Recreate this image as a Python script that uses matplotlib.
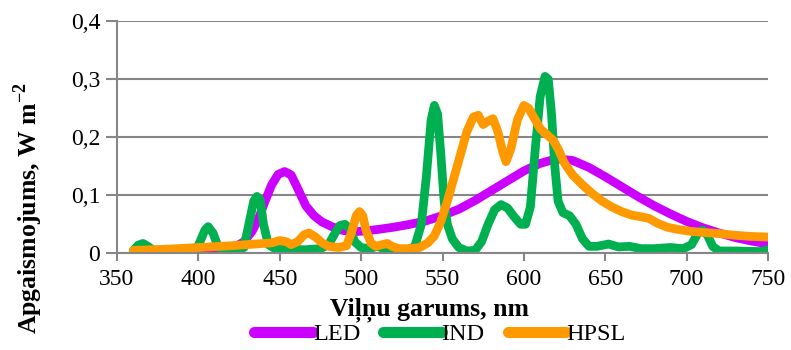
import matplotlib
matplotlib.use("Agg")
import matplotlib.pyplot as plt
from matplotlib.ticker import FixedLocator

plt.rcParams['font.family'] = ['Liberation Serif', 'DejaVu Serif']
plt.rcParams['mathtext.fontset'] = 'custom'
plt.rcParams['mathtext.rm'] = 'Liberation Serif'
plt.rcParams['mathtext.bf'] = 'Liberation Serif:bold'

# ---- data ----
led_wl = [360, 380, 400, 415, 422, 428, 433, 437, 441, 445, 449, 453, 457, 461, 466, 471,
          476, 482, 488, 494, 500, 510, 520, 530, 540, 550, 560, 570, 580, 590, 600, 610,
          620, 630, 640, 650, 660, 670, 680, 690, 700, 710, 720, 730, 740, 750]
led_val = [0.003, 0.003, 0.004, 0.006, 0.010, 0.020, 0.038, 0.060, 0.090, 0.118, 0.136, 0.141,
           0.135, 0.112, 0.082, 0.065, 0.054, 0.046, 0.040, 0.037, 0.038, 0.041, 0.045, 0.050,
           0.056, 0.065, 0.076, 0.091, 0.108, 0.125, 0.142, 0.155, 0.163, 0.160, 0.148, 0.132,
           0.115, 0.098, 0.082, 0.068, 0.055, 0.044, 0.035, 0.027, 0.021, 0.016]

ind_wl = [360, 363, 366, 369, 373, 380, 390, 398, 401, 404, 406, 409, 412, 416, 422, 428,
          431, 434, 436, 438, 440, 443, 447, 455, 465, 475, 480, 484, 487, 490, 493, 496,
          500, 505, 510, 514, 520, 528, 533, 537, 540, 543, 545, 547, 549, 551, 553, 556,
          560, 565, 570, 574, 578, 582, 586, 590, 594, 598, 601, 604, 607, 610, 613, 615,
          617, 619, 621, 624, 628, 632, 636, 640, 645, 652, 658, 665, 672, 680, 690, 698,
          703, 707, 710, 713, 716, 720, 730, 745, 750]
ind_val = [0.005, 0.014, 0.017, 0.012, 0.004, 0.002, 0.002, 0.003, 0.020, 0.040, 0.046, 0.035,
           0.012, 0.003, 0.004, 0.010, 0.050, 0.090, 0.098, 0.092, 0.050, 0.015, 0.008, 0.008,
           0.006, 0.008, 0.015, 0.035, 0.048, 0.050, 0.043, 0.020, 0.010, 0.008, 0.012, 0.008,
           0.004, 0.005, 0.012, 0.050, 0.130, 0.230, 0.255, 0.240, 0.170, 0.090, 0.050, 0.025,
           0.010, 0.004, 0.005, 0.020, 0.050, 0.075, 0.084, 0.078, 0.063, 0.050, 0.050, 0.080,
           0.180, 0.270, 0.305, 0.300, 0.240, 0.150, 0.090, 0.070, 0.065, 0.050, 0.025, 0.012,
           0.012, 0.016, 0.011, 0.012, 0.008, 0.008, 0.010, 0.008, 0.015, 0.035, 0.040, 0.030,
           0.012, 0.004, 0.004, 0.003, 0.006]

hpsl_wl = [360, 380, 400, 420, 435, 445, 450, 454, 457, 461, 465, 468, 472, 476, 480, 486,
           491, 494, 497, 499, 501, 503, 506, 509, 513, 516, 519, 523, 530, 536, 541, 545,
           549, 553, 557, 561, 565, 569, 572, 575, 578, 581, 584, 587, 589, 592, 596, 600,
           603, 606, 610, 614, 618, 621, 625, 630, 636, 642, 648, 654, 660, 666, 672, 677,
           682, 688, 695, 702, 710, 720, 730, 740, 750]
hpsl_val = [0.005, 0.007, 0.010, 0.013, 0.016, 0.018, 0.022, 0.020, 0.015, 0.020, 0.032, 0.035,
            0.028, 0.018, 0.012, 0.010, 0.013, 0.035, 0.065, 0.072, 0.065, 0.040, 0.018, 0.012,
            0.015, 0.017, 0.012, 0.008, 0.008, 0.010, 0.018, 0.030, 0.055, 0.090, 0.130, 0.170,
            0.210, 0.235, 0.238, 0.222, 0.228, 0.232, 0.210, 0.175, 0.158, 0.180, 0.230, 0.255,
            0.250, 0.235, 0.215, 0.205, 0.195, 0.180, 0.155, 0.135, 0.118, 0.103, 0.090, 0.080,
            0.072, 0.066, 0.063, 0.060, 0.052, 0.045, 0.041, 0.038, 0.036, 0.034, 0.031, 0.029,
            0.028]

series_names = ["LED", "IND", "HPSL"]
x_ticks = [350, 400, 450, 500, 550, 600, 650, 700, 750]
y_ticks = [0, 0.1, 0.2, 0.3, 0.4]
y_tick_labels = ["0", "0,1", "0,2", "0,3", "0,4"]

colors = ["#CC00FF", "#00B050", "#FF9900"]
grid_c = "#868686"

fig = plt.figure(figsize=(7.91, 3.5), dpi=100)
ax = fig.add_axes([117/791, 1-253.3/350, (768-117)/791, (253.3-21.3)/350])

lw = 6.3
for wl, val, c, name in [(led_wl, led_val, colors[0], series_names[0]),
                         (ind_wl, ind_val, colors[1], series_names[1]),
                         (hpsl_wl, hpsl_val, colors[2], series_names[2])]:
    ax.plot(wl, val, color=c, lw=lw, solid_joinstyle='round', solid_capstyle='round',
            label=name)

ax.set_xlim(350, 750)
ax.set_ylim(0, 0.4)
ax.xaxis.set_major_locator(FixedLocator(x_ticks))
ax.set_yticks(y_ticks)
ax.set_yticklabels(y_tick_labels)
ax.grid(axis='y', color=grid_c, lw=1.5)
ax.set_axisbelow(True)
for s in ['top', 'right']:
    ax.spines[s].set_visible(False)
for s in ['left', 'bottom']:
    ax.spines[s].set_color(grid_c)
    ax.spines[s].set_linewidth(1.5)
ax.tick_params(axis='both', direction='out', color=grid_c, width=1.5, length=6,
               labelsize=17, pad=5)
ax.tick_params(axis='y', length=8, pad=4)

fig.text(429/791, 1-310/350, "Viļņu garums, nm", ha='center', va='center',
         fontsize=18.5, fontweight='bold')
fig.text(28/791, 1-208/350, r"Apgaismojums, W m$^{\mathbf{-2}}$", ha='center', va='center',
         rotation=90, fontsize=18.5, fontweight='bold')

leg = fig.legend(loc='center', bbox_to_anchor=(440/791, 1-334/350), ncol=3, frameon=False,
                 fontsize=17.5, handlelength=2.4, handletextpad=0.0, columnspacing=0.95,
                 borderaxespad=0, borderpad=0)
for h in leg.get_lines():
    h.set_linewidth(8)
    h.set_solid_capstyle('round')

fig.savefig("out.png", dpi=100)
